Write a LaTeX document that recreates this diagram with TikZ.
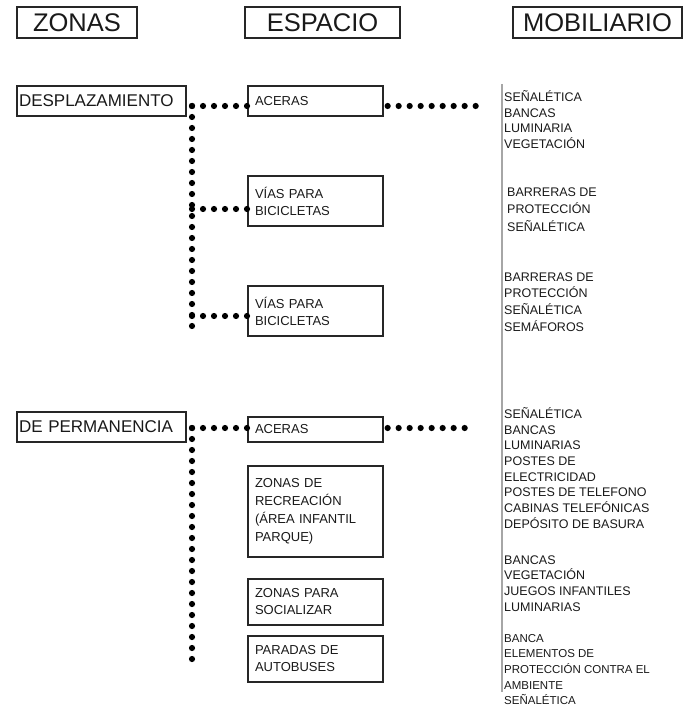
\documentclass[tikz,border=0pt]{standalone}
\usepackage{fontspec}
\setmainfont{Liberation Sans}
\begin{document}
\begin{tikzpicture}[x=1pt, y=-1pt, every node/.style={text=black!90},
  head/.style={draw=black!85, line width=1.3pt, minimum height=31pt, inner sep=0pt, font=\fontsize{25.5}{28}\selectfont},
  zona/.style={draw=black!85, line width=1.3pt, minimum width=169pt, minimum height=30pt, text width=165pt, inner sep=2pt, align=left, font=\fontsize{17}{20}\selectfont},
  esp/.style={draw=black!85, line width=1.3pt, minimum width=135pt, text width=121pt, inner xsep=7pt, inner ysep=0pt, align=left, font=\fontsize{13}{17}\selectfont},
  mob/.style={anchor=west, inner sep=0pt, align=left, font=\fontsize{12.5}{15.7}\selectfont},
  dotline/.style={line width=6.2pt, line cap=round, dash pattern=on 0pt off 11pt}]
\useasboundingbox (0,0) rectangle (685,708);
\node[head, minimum width=120pt] (hzon) at (77,22.5) {ZONAS};
\node[head, minimum width=155pt] (hesp) at (322.5,22.5) {ESPACIO};
\node[head, minimum width=169pt] (hmob) at (597.5,22.5) {MOBILIARIO};
\node[zona] (desp) at (101.5,101) {DESPLAZAMIENTO};
\node[zona] (perm) at (101.5,427) {DE PERMANENCIA};
\node[esp, minimum height=30pt] (acer1) at (315.5,101) {ACERAS};
\node[esp, minimum height=50pt] (via1) at (315.5,201) {VÍAS PARA\\BICICLETAS};
\node[esp, minimum height=50pt] (via2) at (315.5,311) {VÍAS PARA\\BICICLETAS};
\node[esp, minimum height=25pt] (acer2) at (315.5,429.5) {ACERAS};
\node[esp, minimum height=91pt, font=\fontsize{13}{18}\selectfont] (recre) at (315.5,511.5) {ZONAS DE\\RECREACIÓN\\(ÁREA INFANTIL\\PARQUE)};
\node[esp, minimum height=46pt] (soc) at (315.5,602) {ZONAS PARA\\SOCIALIZAR};
\node[esp, minimum height=46pt] (parad) at (315.5,659) {PARADAS DE\\AUTOBUSES};
\node[mob] (m1) at (504,119.5) {SEÑALÉTICA\\BANCAS\\LUMINARIA\\VEGETACIÓN};
\node[mob, font=\fontsize{12.5}{17.5}\selectfont] (m2) at (507,209.5) {BARRERAS DE\\PROTECCIÓN\\SEÑALÉTICA};
\node[mob, font=\fontsize{12.5}{16.7}\selectfont] (m3) at (504,302) {BARRERAS DE\\PROTECCIÓN\\SEÑALÉTICA\\SEMÁFOROS};
\node[mob] (m4) at (504,468) {SEÑALÉTICA\\BANCAS\\LUMINARIAS\\POSTES DE\\ELECTRICIDAD\\POSTES DE TELEFONO\\CABINAS TELEFÓNICAS\\DEPÓSITO DE BASURA};
\node[mob] (m5) at (504,583.5) {BANCAS\\VEGETACIÓN\\JUEGOS INFANTILES\\LUMINARIAS};
\node[mob, font=\fontsize{11.5}{15.7}\selectfont] (m6) at (504,669.5) {BANCA\\ELEMENTOS DE\\PROTECCIÓN CONTRA EL\\AMBIENTE\\SEÑALÉTICA};
\coordinate (t1) at (192,106);
\coordinate (b1) at (192,337);
\coordinate (e1) at (477,106);
\coordinate (t2) at (192,428);
\coordinate (b2) at (192,665);
\coordinate (e2) at (470,428);
\draw[gray!70, line width=1.5pt] (502,84) -- (502,692);
\draw[dotline] (t1) -- (b1);
\draw[dotline] (t1) -- (acer1.west |- t1);
\draw[dotline] ([xshift=4pt]acer1.east |- t1) -- (e1);
\draw[dotline] ([yshift=-8pt]via1.west -| t1) -- ([yshift=-8pt]via1.west);
\draw[dotline] ([yshift=-5pt]via2.west -| t1) -- ([yshift=-5pt]via2.west);
\draw[dotline] (t2) -- (b2);
\draw[dotline] (t2) -- (acer2.west |- t2);
\draw[dotline] ([xshift=4pt]acer2.east |- t2) -- (e2);
\end{tikzpicture}
\end{document}
